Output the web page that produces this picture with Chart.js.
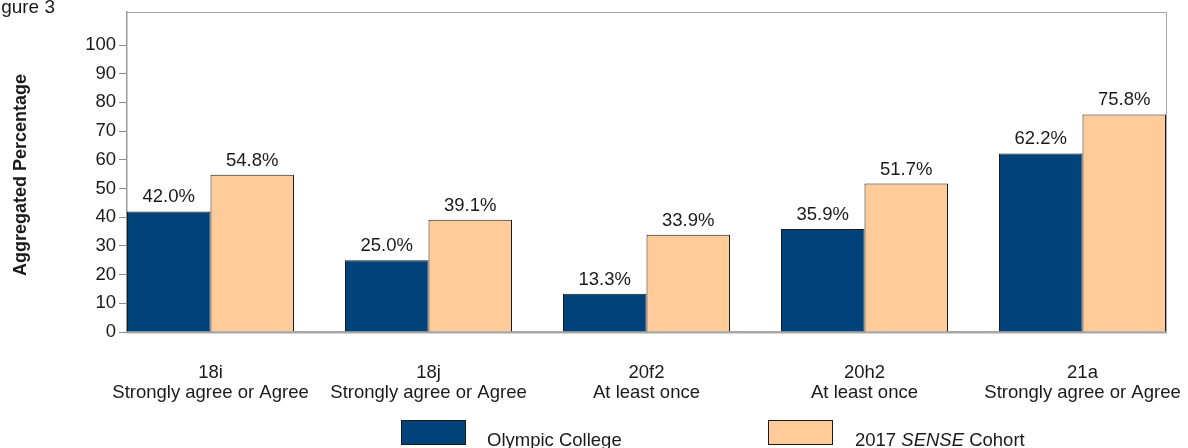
<!DOCTYPE html>
<html><head><meta charset="utf-8">
<script src="https://cdn.jsdelivr.net/npm/chart.js@4/dist/chart.umd.min.js"></script>
<style>html,body{margin:0;padding:0;background:#fff}#wrap{width:1188px;height:448px;position:relative}</style>
</head><body><div id="wrap"><canvas id="c" width="1188" height="448"></canvas></div>
<script>
const itemCodes = ['18i', '18j', '20f2', '20h2', '21a'];
const itemLabels = ['Strongly agree or Agree', 'Strongly agree or Agree', 'At least once', 'At least once', 'Strongly agree or Agree'];
const collegeValues = [42.0, 25.0, 13.3, 35.9, 62.2];
const cohortValues = [54.8, 39.1, 33.9, 51.7, 75.8];
const yTickValues = [0, 10, 20, 30, 40, 50, 60, 70, 80, 90, 100];
const seriesNames = ['Olympic College', '2017 SENSE Cohort'];
const figureTitle = 'Figure 3';
const yAxisTitle = 'Aggregated Percentage';

const FONT = "'Liberation Sans', Arial, sans-serif";
const FS = 18.5;
const NAVY = '#00427a';
const PEACH = '#ffcc99';
const TEXT = '#1a1a1a';

const toPoints = arr => arr.map((v, i) => ({ x: i, y: v }));

const framePlugin = {
  id: 'frame',
  beforeDatasetsDraw(chart) {
    const { ctx, chartArea: a } = chart;
    ctx.save();
    ctx.strokeStyle = '#a6a6a6';
    ctx.lineWidth = 1;
    ctx.beginPath();
    ctx.moveTo(a.left, a.top + 0.5);
    ctx.lineTo(a.right + 0.5, a.top + 0.5);
    ctx.lineTo(a.right + 0.5, a.bottom);
    ctx.stroke();
    ctx.restore();
  }
};

const labelPlugin = {
  id: 'valueLabels',
  afterDatasetsDraw(chart) {
    const { ctx } = chart;
    ctx.save();
    ctx.font = FS + 'px ' + FONT;
    ctx.fillStyle = TEXT;
    ctx.textAlign = 'center';
    ctx.textBaseline = 'alphabetic';
    chart.data.datasets.forEach((ds, di) => {
      chart.getDatasetMeta(di).data.forEach((bar, i) => {
        ctx.fillText(ds.data[i].y.toFixed(1) + '%', bar.x, bar.y - 9);
      });
    });
    ctx.restore();
  }
};

const extrasPlugin = {
  id: 'extras',
  afterDraw(chart) {
    const { ctx, chartArea: a } = chart;
    ctx.save();
    ctx.font = '19px ' + FONT;
    ctx.fillStyle = TEXT;
    ctx.textAlign = 'right';
    ctx.textBaseline = 'alphabetic';
    ctx.fillText(figureTitle, 55, 13);
    ctx.save();
    ctx.translate(21, (a.top + a.bottom) / 2 + 3);
    ctx.rotate(-Math.PI / 2);
    ctx.font = 'bold 18px ' + FONT;
    ctx.textAlign = 'center';
    ctx.textBaseline = 'middle';
    ctx.fillText(yAxisTitle, 0, 0);
    ctx.restore();
    const boxes = [
      { x: 401, color: NAVY, textX: 487 },
      { x: 768, color: PEACH, textX: 855 }
    ];
    boxes.forEach(b => {
      ctx.fillStyle = b.color;
      ctx.fillRect(b.x, 420, 64, 24);
      ctx.strokeStyle = TEXT;
      ctx.lineWidth = 1;
      ctx.strokeRect(b.x + 0.5, 420.5, 64, 24);
    });
    ctx.fillStyle = TEXT;
    ctx.textAlign = 'left';
    ctx.textBaseline = 'alphabetic';
    ctx.font = FS + 'px ' + FONT;
    ctx.fillText(seriesNames[0], boxes[0].textX, 446);
    const parts = seriesNames[1].split(' ');
    let x = boxes[1].textX;
    parts.forEach((p, i) => {
      ctx.font = (p === 'SENSE' ? 'italic ' : '') + FS + 'px ' + FONT;
      const s = (i < parts.length - 1) ? p + ' ' : p;
      ctx.fillText(s, x, 446);
      x += ctx.measureText(s).width;
    });
    ctx.restore();
  }
};

new Chart(document.getElementById('c'), {
  type: 'bar',
  data: {
    datasets: [
      { label: seriesNames[0], data: toPoints(collegeValues), backgroundColor: NAVY, borderColor: TEXT, borderWidth: 1 },
      { label: seriesNames[1], data: toPoints(cohortValues), backgroundColor: PEACH, borderColor: TEXT, borderWidth: 1 }
    ]
  },
  options: {
    responsive: false,
    animation: false,
    devicePixelRatio: 1,
    layout: { padding: { top: 12, right: 22, left: 0, bottom: 0 } },
    datasets: { bar: { categoryPercentage: 0.766, barPercentage: 1 } },
    plugins: { legend: { display: false }, tooltip: { enabled: false } },
    scales: {
      x: {
        type: 'linear',
        offset: false,
        min: -0.383,
        max: itemCodes.length - 1 + 0.383,
        afterBuildTicks: s => { s.ticks = itemCodes.map((_, i) => ({ value: i })); },
        afterFit: s => { s.height = 116; s.paddingLeft = 0; s.paddingRight = 0; },
        grid: { display: false, offset: false },
        border: { display: true, color: '#a8a8a8', width: 2.5 },
        ticks: {
          autoSkip: false, maxRotation: 0, padding: 22,
          color: TEXT, font: { family: FONT, size: FS, lineHeight: 1.13 },
          callback: v => [itemCodes[v], itemLabels[v]]
        }
      },
      y: {
        min: 0,
        max: 111.5,
        afterBuildTicks: s => { s.ticks = yTickValues.map(v => ({ value: v })); },
        afterFit: s => { s.width = 127; s.paddingTop = 0; s.paddingBottom = 0; },
        grid: { display: true, drawOnChartArea: false, drawTicks: true, tickLength: 8, color: '#8c8c8c' },
        border: { display: true, color: '#9a9a9a', width: 1.5 },
        ticks: { padding: 3, color: TEXT, font: { family: FONT, size: FS } }
      }
    }
  },
  plugins: [framePlugin, labelPlugin, extrasPlugin]
});
</script></body></html>
